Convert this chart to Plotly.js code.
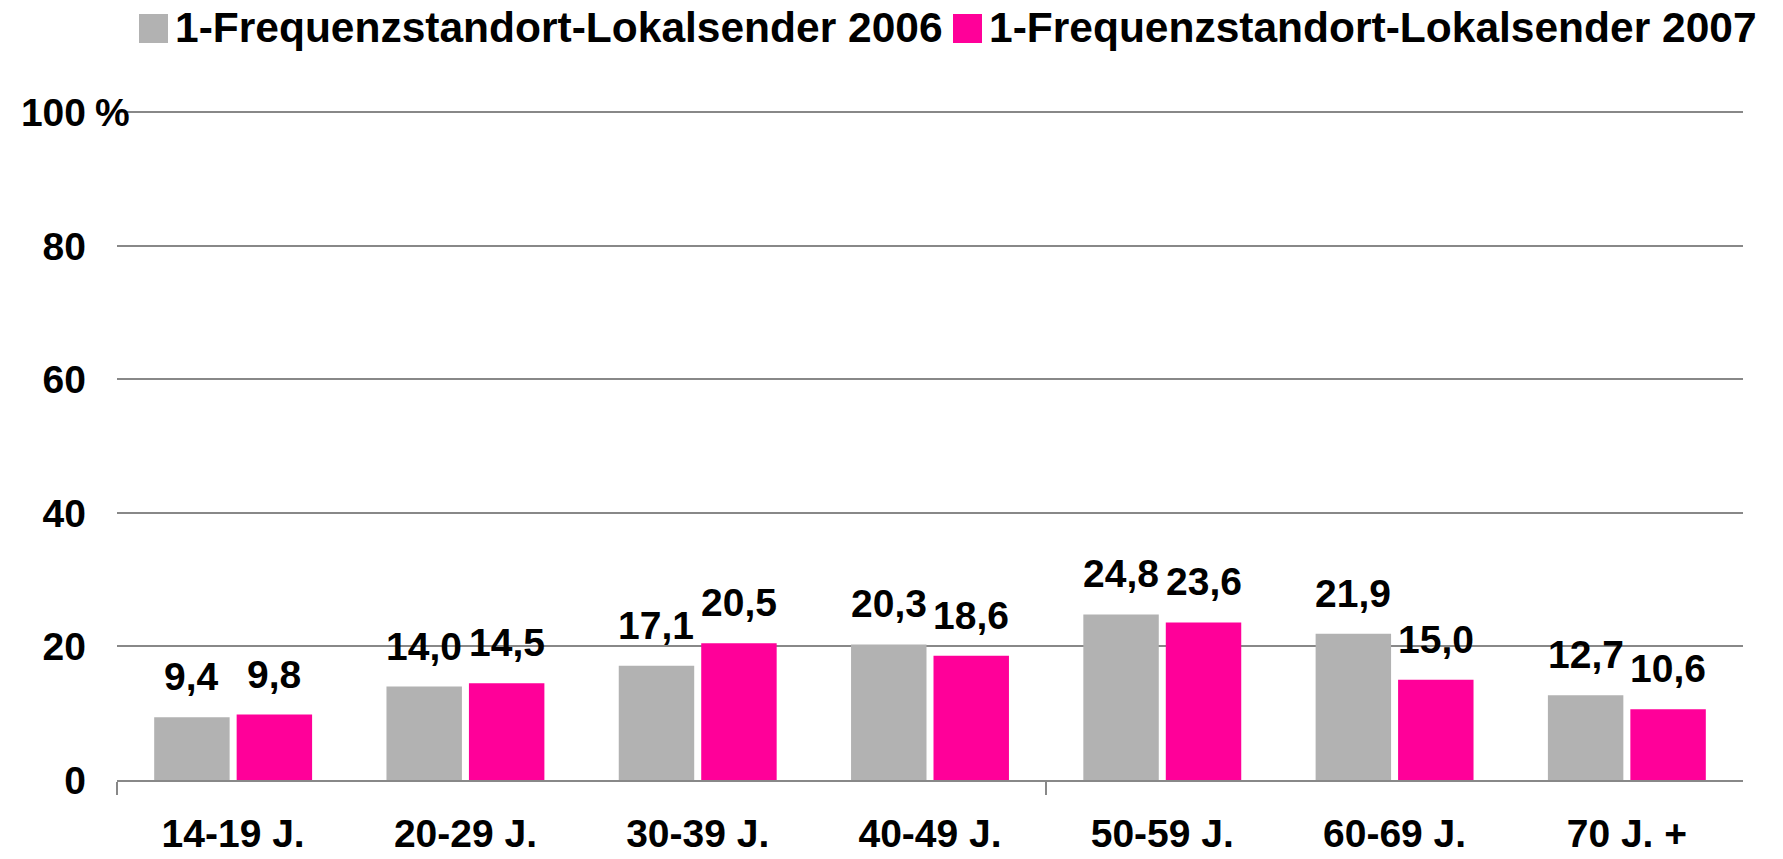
<!DOCTYPE html>
<html><head><meta charset="utf-8">
<script src="https://cdn.plot.ly/plotly-3.0.1.min.js"></script>
<style>html,body{margin:0;padding:0;background:#fff}#chart{width:1783px;height:859px}</style>
</head><body><div id="chart"></div>
<script>
const categories = ['14-19 J.','20-29 J.','30-39 J.','40-49 J.','50-59 J.','60-69 J.','70 J. +'];
const series2006 = [9.4, 14.0, 17.1, 20.3, 24.8, 21.9, 12.7];
const series2007 = [9.8, 14.5, 20.5, 18.6, 23.6, 15.0, 10.6];
const seriesNames = ['1-Frequenzstandort-Lokalsender 2006', '1-Frequenzstandort-Lokalsender 2007'];
const seriesColors = ['#b2b2b2', '#ff0099'];
const yTickVals = [0, 20, 40, 60, 80, 100];
const yTickText = ['0', '20', '40', '60', '80', '100'];
const yUnit = '%';
const boundaryTicks = [-0.5, 3.5];

const FONT = 'Liberation Sans, Arial, Helvetica, sans-serif';
const idx = categories.map((c, i) => i);
const BARGAP = 0.29, BARGROUPGAP = 0.085;

// plot-area geometry (pixels)
const L = 117, W = 1626, B = 780, H = 671;
const px = p => (p - L) / W;
const py = p => (B - p) / H;

function barTrace(vals, k) {
  return {
    type: 'bar', x: idx, y: vals, name: seriesNames[k],
    marker: {color: seriesColors[k]},
    showlegend: false, hoverinfo: 'y', cliponaxis: false
  };
}
const data = [barTrace(series2006, 0), barTrace(series2007, 1)];

const annotations = [];
// value labels above bars
const slotPx = (1 - BARGAP) * (W / categories.length) / 2;
[series2006, series2007].forEach((vals, k) => {
  vals.forEach((v, i) => {
    annotations.push({
      xref: 'x', yref: 'y', x: idx[i], y: v,
      xshift: (k - 0.5) * slotPx, yshift: 17,
      xanchor: 'center', yanchor: 'bottom', showarrow: false,
      text: v.toFixed(1).replace('.', ','),
      font: {family: FONT, size: 39, color: '#000', weight: 'bold'}
    });
  });
});

// custom legend (large squares)
const legendX = [[139, 168, 173], [953, 982, 987]];
const shapes = legendX.map((lx, k) => ({
  type: 'rect', xref: 'paper', yref: 'paper',
  x0: px(lx[0]), x1: px(lx[1]), y0: py(43), y1: py(14),
  fillcolor: seriesColors[k], line: {width: 0}
}));
legendX.forEach((lx, k) => annotations.push({
  xref: 'paper', yref: 'paper', x: px(lx[2]), y: py(28),
  xanchor: 'left', yanchor: 'middle', showarrow: false,
  text: seriesNames[k],
  font: {family: FONT, size: 42.5, color: '#000', weight: 'bold'}
}));
annotations.push({
  xref: 'paper', yref: 'y', x: px(93), y: 100, xanchor: 'left', yanchor: 'middle',
  showarrow: false, text: yUnit,
  font: {family: FONT, size: 39, color: '#000', weight: 'bold'}
});

const layout = {
  width: 1783, height: 859,
  margin: {l: L, r: 1783 - L - W, t: B - H, b: 859 - B, pad: 0},
  paper_bgcolor: '#fff', plot_bgcolor: '#fff',
  separators: ',.',
  barmode: 'group', bargap: BARGAP, bargroupgap: BARGROUPGAP,
  font: {family: FONT, size: 39, color: '#000', weight: 'bold'},
  xaxis: {
    range: [-0.5, 6.5], tickmode: 'array', tickvals: idx, ticktext: categories,
    ticks: '', ticklabelstandoff: 18, showgrid: false, zeroline: false,
    showline: true, linecolor: '#888', linewidth: 2,
    minor: {tickmode: 'array', tickvals: boundaryTicks, ticks: 'outside', ticklen: 13, tickwidth: 2, tickcolor: '#888', showgrid: false},
    tickfont: {family: FONT, size: 39, color: '#000', weight: 'bold'},
    fixedrange: true
  },
  yaxis: {
    range: [0, 100.5], tickmode: 'array', tickvals: yTickVals, ticktext: yTickText,
    ticks: '', ticklabelstandoff: 30, showgrid: true, gridcolor: '#888', gridwidth: 2,
    zeroline: false, showline: false,
    tickfont: {family: FONT, size: 39, color: '#000', weight: 'bold'},
    fixedrange: true
  },
  shapes: shapes, annotations: annotations,
  showlegend: false
};
Plotly.newPlot('chart', data, layout, {displayModeBar: false, staticPlot: true});
</script></body></html>
